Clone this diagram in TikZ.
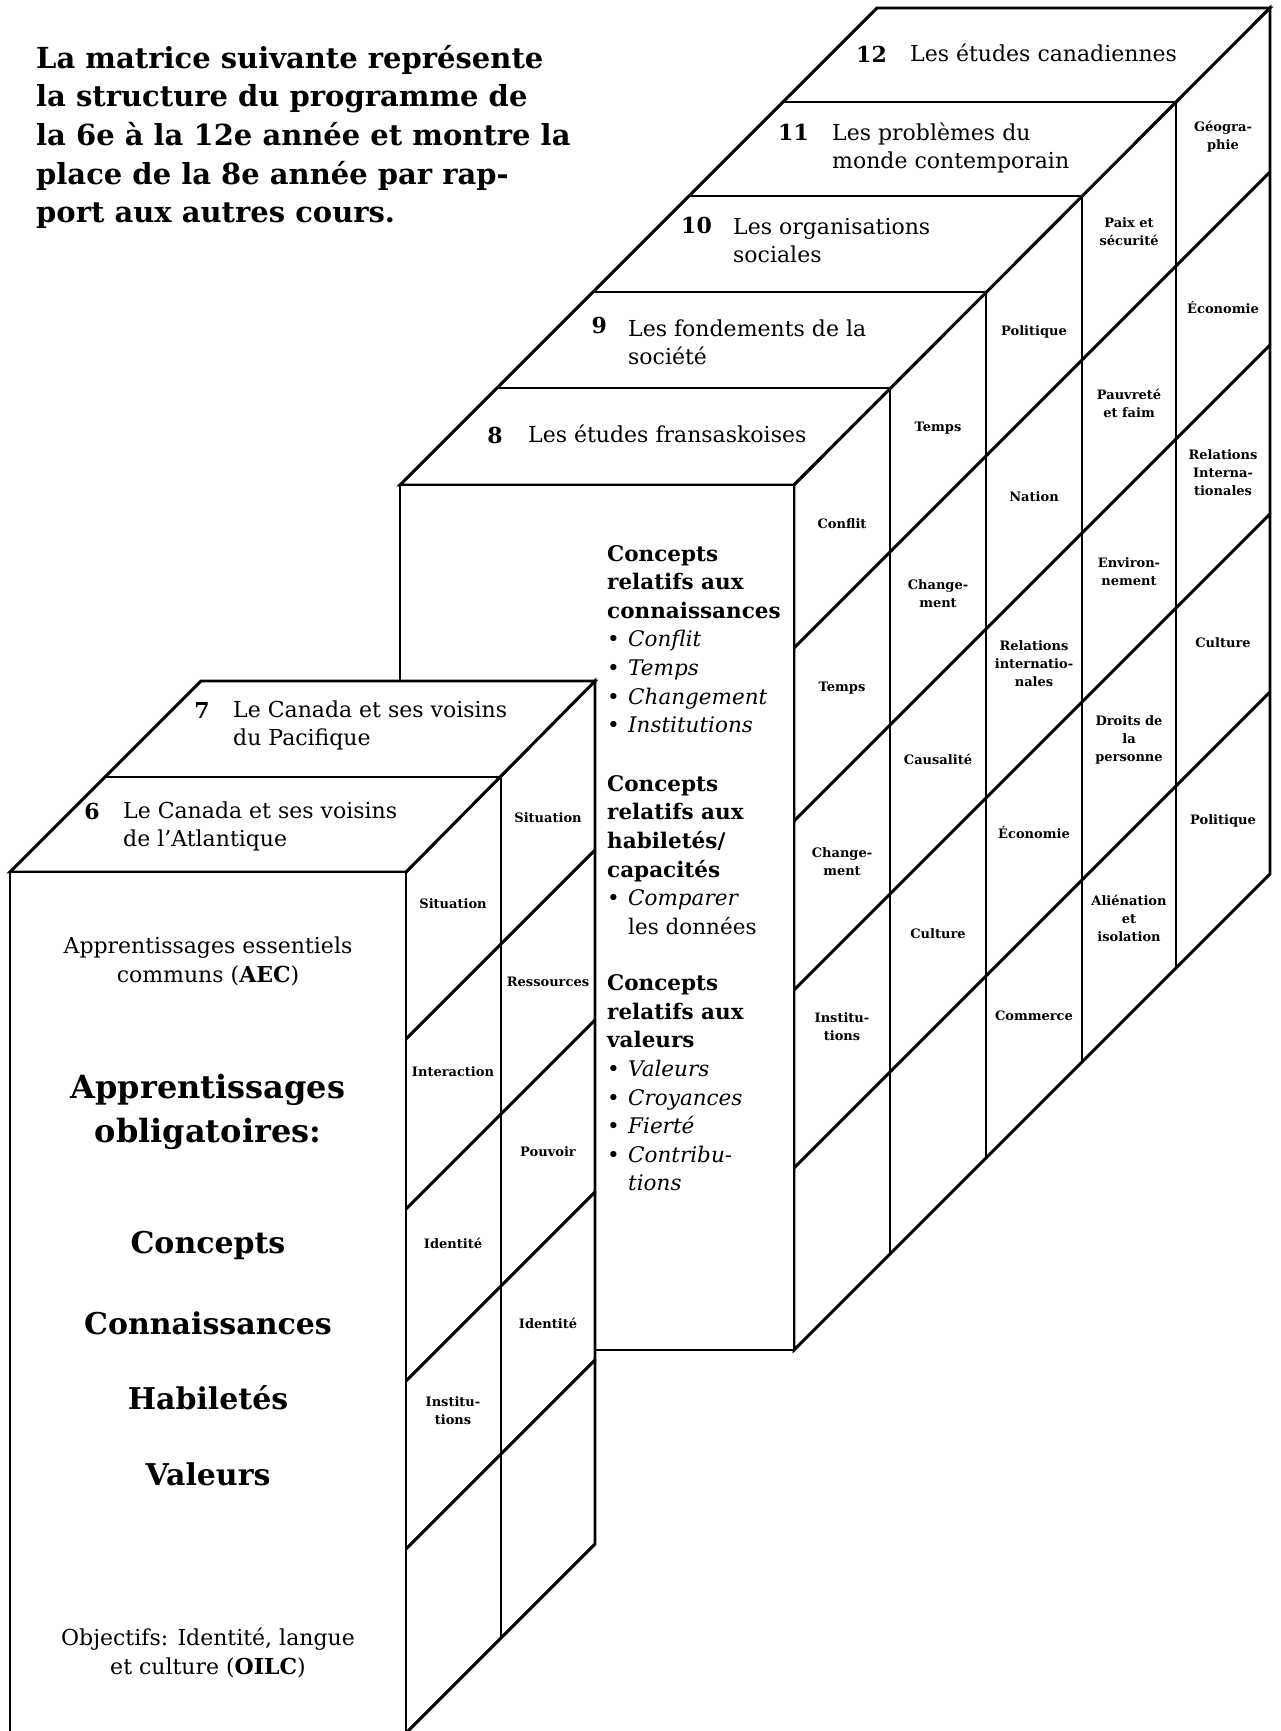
\documentclass[tikz,border=0pt]{standalone}
\usepackage{fontspec}
\setmainfont{DejaVu Serif}
\begin{document}
\begin{tikzpicture}[x=1pt,y=-1pt,
  edge/.style={line width=2.9pt, line join=miter, line cap=round},
  face/.style={edge, fill=white},
  cell/.style={font=\fontsize{13}{18}\selectfont\bfseries, align=center, inner sep=0pt},
  gnum/.style={font=\fontsize{22}{28}\selectfont\bfseries, anchor=east, inner sep=0pt},
  gtext/.style={font=\fontsize{22}{28}\selectfont, align=left, anchor=west, inner sep=0pt},
  body/.style={font=\fontsize{21.5}{28.6}\selectfont, align=left, anchor=west, inner sep=0pt},
  big/.style={font=\fontsize{30}{44}\selectfont\bfseries, align=center, inner sep=0pt},
  plain/.style={font=\fontsize{22}{29}\selectfont, align=center, inner sep=0pt},
  titre/.style={font=\fontsize{29}{38.6}\selectfont\bfseries, align=left, anchor=west, inner sep=0pt},
]
\useasboundingbox[fill=white] (0,0) rectangle (1281,1731);
\newcommand{\bul}{\makebox[21pt][l]{\textbullet}}

% ---------- title ----------
\node[titre] (titre) at (36,137) {La matrice suivante représente\\la structure du programme de\\la 6e à la 12e année et montre la\\place de la 8e année par rap-\\port aux autres cours.};

% ---------- main group (grades 8 to 12) ----------
% top faces
\draw[face] (400,485) -- (794,485) -- (1270,8) -- (877,8) -- cycle;
\draw[edge] (497,388) -- (890,388);
\draw[edge] (593,292) -- (986,292);
\draw[edge] (689,196) -- (1082,196);
\draw[edge] (783,102) -- (1176,102);
% side face
\draw[face] (794,485) -- (1270,8) -- (1270,874) -- (794,1350) -- cycle;
\foreach \c in {1442,1615,1784,1962}{
  \draw[edge] (794,\c-794) -- (1270,\c-1270);
}
\foreach \x in {890,986,1082,1176}{
  \draw[edge] (\x,1278-\x) -- (\x,2144-\x);
}
% front face of grade 8
\draw[face] (400,485) rectangle (794,1350);

% grade titles (main group)
\node[gnum] (n12) at (887,54) {12};
\node[gtext] (t12) at (910,53) {Les études canadiennes};
\node[gnum] (n11) at (809,132) {11};
\node[gtext] (t11) at (832,148) {Les problèmes du\\monde contemporain};
\node[gnum] (n10) at (712,225) {10};
\node[gtext] (t10) at (733,241) {Les organisations\\sociales};
\node[gnum] (n9) at (607,325) {9};
\node[gtext] (t9) at (628,342) {Les fondements de la\\société};
\node[gnum] (n8) at (503,435) {8};
\node[gtext] (t8) at (528,434) {Les études fransaskoises};

% front text of grade 8
\node[body] (b1) at (607,639) {\textbf{Concepts}\\\textbf{relatifs aux}\\\textbf{connaissances}\\\bul\textit{Conflit}\\\bul\textit{Temps}\\\bul\textit{Changement}\\\bul\textit{Institutions}};
\node[body] (b2) at (607,855) {\textbf{Concepts}\\\textbf{relatifs aux}\\\textbf{habiletés/}\\\textbf{capacités}\\\bul\textit{Comparer}\\\hspace*{21pt}les données};
\node[body] (b3) at (607,1083) {\textbf{Concepts}\\\textbf{relatifs aux}\\\textbf{valeurs}\\\bul\textit{Valeurs}\\\bul\textit{Croyances}\\\bul\textit{Fierté}\\\bul\textit{Contribu-}\\\hspace*{21pt}\textit{tions}};

% side cells, grade 8
\node[cell] (s8a) at (842,524) {Conflit};
\node[cell] (s8b) at (842,688) {Temps};
\node[cell] (s8c) at (842,862) {Change-\\ment};
\node[cell] (s8d) at (842,1027) {Institu-\\tions};
% grade 9
\node[cell] (s9a) at (938,428) {Temps};
\node[cell] (s9b) at (938,594) {Change-\\ment};
\node[cell] (s9c) at (938,759) {Causalité};
\node[cell] (s9d) at (938,934) {Culture};
% grade 10
\node[cell] (s10a) at (1034,332) {Politique};
\node[cell] (s10b) at (1034,497) {Nation};
\node[cell] (s10c) at (1034,664) {Relations\\internatio-\\nales};
\node[cell] (s10d) at (1034,833) {Économie};
\node[cell] (s10e) at (1034,1016) {Commerce};
% grade 11
\node[cell] (s11a) at (1129,232) {Paix et\\sécurité};
\node[cell] (s11b) at (1129,403) {Pauvreté\\et faim};
\node[cell] (s11c) at (1129,572) {Environ-\\nement};
\node[cell] (s11d) at (1129,740) {Droits de\\la\\personne};
\node[cell] (s11e) at (1129,918) {Aliénation\\et\\isolation};
% grade 12
\node[cell] (s12a) at (1223,137) {Géogra-\\phie};
\node[cell] (s12b) at (1223,308) {Économie};
\node[cell] (s12c) at (1223,473) {Relations\\Interna-\\tionales};
\node[cell] (s12d) at (1223,643) {Culture};
\node[cell] (s12e) at (1223,821) {Politique};

% ---------- left group (grades 6 and 7) ----------
% side face
\fill[white] (406,872) -- (595,681) -- (595,1544) -- (408,1731) -- (406,1731) -- cycle;
\draw[edge] (406,872) -- (595,681) -- (595,1544) -- (408,1731);
\draw[edge] (501,777) -- (501,1638);
\foreach \c in {1445,1615,1787,1955}{
  \draw[edge] (406,\c-406) -- (595,\c-595);
}
% top faces
\draw[face] (10,872) -- (406,872) -- (595,681) -- (201,681) -- cycle;
\draw[edge] (105,777) -- (501,777);
% front face of grade 6
\fill[white] (10,872) rectangle (406,1731);
\draw[edge] (10,1731) -- (10,872) -- (406,872) -- (406,1731);

% grade titles (left group)
\node[gnum] (n7) at (210,710) {7};
\node[gtext] (t7) at (233,725) {Le Canada et ses voisins\\du Pacifique};
\node[gnum] (n6) at (100,811) {6};
\node[gtext] (t6) at (123,826) {Le Canada et ses voisins\\de l'Atlantique};

% side cells, grade 6
\node[cell] (s6a) at (453,904) {Situation};
\node[cell] (s6b) at (453,1072) {Interaction};
\node[cell] (s6c) at (453,1243) {Identité};
\node[cell] (s6d) at (453,1411) {Institu-\\tions};
% grade 7
\node[cell] (s7a) at (548,818) {Situation};
\node[cell] (s7b) at (548,982) {Ressources};
\node[cell] (s7c) at (548,1152) {Pouvoir};
\node[cell] (s7d) at (548,1323) {Identité};

% front text of grade 6
\node[plain] (aec) at (208,961) {Apprentissages essentiels\\communs (\textbf{AEC})};
\node[big, font=\fontsize{32}{44}\selectfont\bfseries] (oblig) at (208,1112) {Apprentissages\\obligatoires:};
\node[big] (k1) at (208,1245) {Concepts};
\node[big] (k2) at (208,1323) {Connaissances};
\node[big] (k3) at (208,1398) {Habiletés};
\node[big] (k4) at (208,1474) {Valeurs};
\node[plain] (oilc) at (208,1653) {Objectifs: Identité, langue\\et culture (\textbf{OILC})};
\end{tikzpicture}
\end{document}
